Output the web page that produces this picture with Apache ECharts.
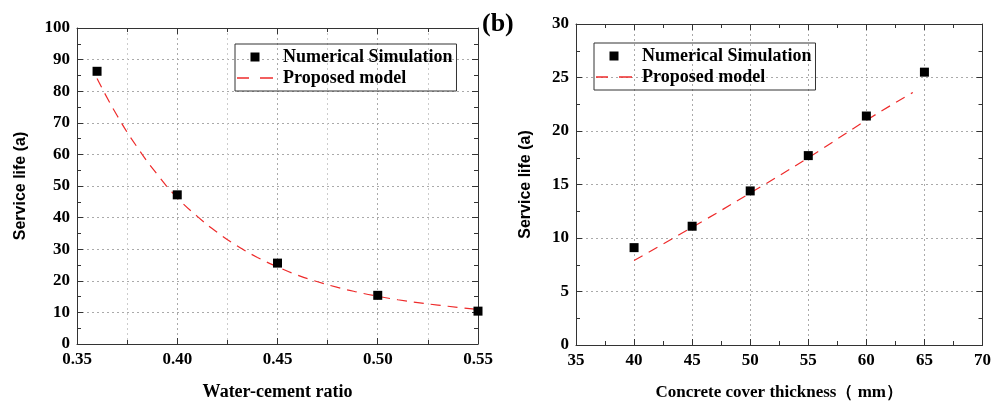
<!DOCTYPE html>
<html>
<head>
<meta charset="utf-8">
<title>Service life</title>
<script src="https://cdn.jsdelivr.net/npm/echarts@6/dist/echarts.min.js"></script>
<style>
  html, body { margin: 0; padding: 0; background: #fff; }
  #chart { width: 994px; height: 406px; }
</style>
</head>
<body>
<div id="chart"></div>
<script>
// (a) water-cement ratio
var ratioX = [0.36, 0.40, 0.45, 0.50, 0.55];
var ratioLife = [86.3, 47.2, 25.6, 15.4, 10.4];
var ratioFitX = [0.36, 0.37, 0.38, 0.39, 0.40, 0.41, 0.42, 0.43, 0.44, 0.45,
  0.46, 0.47, 0.48, 0.49, 0.50, 0.51, 0.52, 0.53, 0.54, 0.55];
var ratioFitY = [84.0, 72.3, 62.3, 53.7, 46.3, 40.4, 35.3, 31.0, 27.4, 24.4,
  21.8, 19.7, 17.9, 16.4, 15.1, 14.0, 13.1, 12.3, 11.6, 10.9];

// (b) concrete cover thickness
var coverX = [40, 45, 50, 55, 60, 65];
var coverLife = [9.1, 11.1, 14.4, 17.7, 21.4, 25.5];
var coverFitX = [40, 45, 50, 55, 60, 64];
var coverFitY = [7.9, 11.0, 14.2, 17.5, 21.0, 23.6];

var seriesNames = ['Numerical Simulation', 'Proposed model'];

var serif = "'Liberation Serif', 'Times New Roman', serif";
var frameColor = '#333';
var fitColor = '#ee2b2b';
// legend icons: a small square and two red dashes
var squareIcon = 'path://M0,0H10V10H0Z';
var dashIcon = 'path://M0,0H12V1.5H0ZM23,0H36V1.5H23Z';

function pairs(xs, ys) {
  return xs.map(function each(x, i) { return [x, ys[i]]; });
}

function mainAxis(gridIndex, pos, min, max, interval, digits, minorGrid) {
  return {
    type: 'value',
    gridIndex: gridIndex,
    position: pos,
    min: min,
    max: max,
    interval: interval,
    axisLine: { show: true, onZero: false, lineStyle: { color: frameColor, width: 1 } },
    axisTick: { show: true, inside: true, length: 6, lineStyle: { color: frameColor } },
    minorTick: { show: true, splitNumber: 2, length: 4, lineStyle: { color: frameColor } },
    splitLine: { show: true, lineStyle: { color: '#aaa', type: [2, 3], width: 1 } },
    minorSplitLine: { show: minorGrid, lineStyle: { color: '#ccc', type: [2, 3], width: 1 } },
    axisLabel: {
      color: '#000',
      fontFamily: serif,
      fontWeight: 'bold',
      fontSize: 17,
      margin: 7,
      formatter: function fmt(v) { return v.toFixed(digits); }
    }
  };
}

function mirrorAxis(gridIndex, pos, min, max, interval) {
  return {
    type: 'value',
    gridIndex: gridIndex,
    position: pos,
    min: min,
    max: max,
    interval: interval,
    axisLine: { show: true, onZero: false, lineStyle: { color: frameColor, width: 1 } },
    axisTick: { show: true, inside: true, length: 6, lineStyle: { color: frameColor } },
    minorTick: { show: true, splitNumber: 2, length: 4, lineStyle: { color: frameColor } },
    splitLine: { show: false },
    axisLabel: { show: false }
  };
}

function legendAt(left, top) {
  return {
    left: left,
    top: top,
    orient: 'vertical',
    data: [
      { name: seriesNames[0], icon: squareIcon },
      { name: seriesNames[1], icon: dashIcon }
    ],
    symbolKeepAspect: true,
    borderColor: frameColor,
    borderWidth: 1,
    padding: [4, 4, 4, 2],
    itemGap: 3,
    itemWidth: 36,
    itemHeight: 9,
    textStyle: {
      color: '#000',
      fontFamily: serif,
      fontWeight: 'bold',
      fontSize: 18,
      padding: [0, 0, 0, 5]
    }
  };
}

var nameStyle = { color: '#000', fontFamily: serif, fontWeight: 'bold', fontSize: 18 };
var yNameStyle = { color: '#000', fontFamily: "'Liberation Sans', Arial, sans-serif", fontWeight: 'bold', fontSize: 16 };

var xa = mainAxis(0, 'bottom', 0.35, 0.55, 0.05, 2, true);
xa.name = 'Water-cement ratio';
xa.nameLocation = 'middle';
xa.nameGap = 39;
xa.nameTextStyle = nameStyle;

var ya = mainAxis(0, 'left', 0, 100, 10, 0, false);
ya.name = 'Service life (a)';
ya.nameLocation = 'middle';
ya.nameGap = 48;
ya.nameTextStyle = yNameStyle;

var xb = mainAxis(1, 'bottom', 35, 70, 5, 0, false);
xb.name = 'Concrete cover thickness\uff08 mm\uff09';
xb.nameLocation = 'middle';
xb.nameGap = 39;
xb.nameTextStyle = { color: '#000', fontFamily: serif, fontWeight: 'bold', fontSize: 17 };

var yb = mainAxis(1, 'left', 0, 30, 5, 0, false);
yb.name = 'Service life (a)';
yb.nameLocation = 'middle';
yb.nameGap = 42;
yb.nameTextStyle = yNameStyle;

var dashStyle = { color: fitColor, width: 1.2, type: [10, 7] };

var option = {
  animation: false,
  backgroundColor: '#fff',
  grid: [
    { left: 77, top: 28, width: 401, height: 323 },
    { left: 576, top: 24, width: 407, height: 328 }
  ],
  legend: [legendAt(235, 44), legendAt(594, 43)],
  graphic: [{
    type: 'text',
    left: 482,
    top: 11,
    style: { text: '(b)', fill: '#000', font: 'bold 26px ' + serif }
  }],
  xAxis: [
    xa,
    mirrorAxis(0, 'top', 0.35, 0.55, 0.05),
    xb,
    mirrorAxis(1, 'top', 35, 70, 5)
  ],
  yAxis: [
    ya,
    mirrorAxis(0, 'right', 0, 100, 10),
    yb,
    mirrorAxis(1, 'right', 0, 30, 5)
  ],
  series: [
    {
      name: seriesNames[1],
      type: 'line',
      xAxisIndex: 0,
      yAxisIndex: 0,
      data: pairs(ratioFitX, ratioFitY),
      smooth: true,
      symbol: 'none',
      lineStyle: dashStyle,
      itemStyle: { color: fitColor },
      z: 2
    },
    {
      name: seriesNames[0],
      type: 'scatter',
      xAxisIndex: 0,
      yAxisIndex: 0,
      data: pairs(ratioX, ratioLife),
      symbol: 'rect',
      symbolSize: 9,
      itemStyle: { color: '#000', opacity: 1 },
      z: 3
    },
    {
      name: seriesNames[1],
      type: 'line',
      xAxisIndex: 2,
      yAxisIndex: 2,
      data: pairs(coverFitX, coverFitY),
      smooth: true,
      symbol: 'none',
      lineStyle: dashStyle,
      itemStyle: { color: fitColor },
      z: 2
    },
    {
      name: seriesNames[0],
      type: 'scatter',
      xAxisIndex: 2,
      yAxisIndex: 2,
      data: pairs(coverX, coverLife),
      symbol: 'rect',
      symbolSize: 9,
      itemStyle: { color: '#000', opacity: 1 },
      z: 3
    }
  ]
};

var chart = echarts.init(document.getElementById('chart'));
chart.setOption(option);
</script>
</body>
</html>
